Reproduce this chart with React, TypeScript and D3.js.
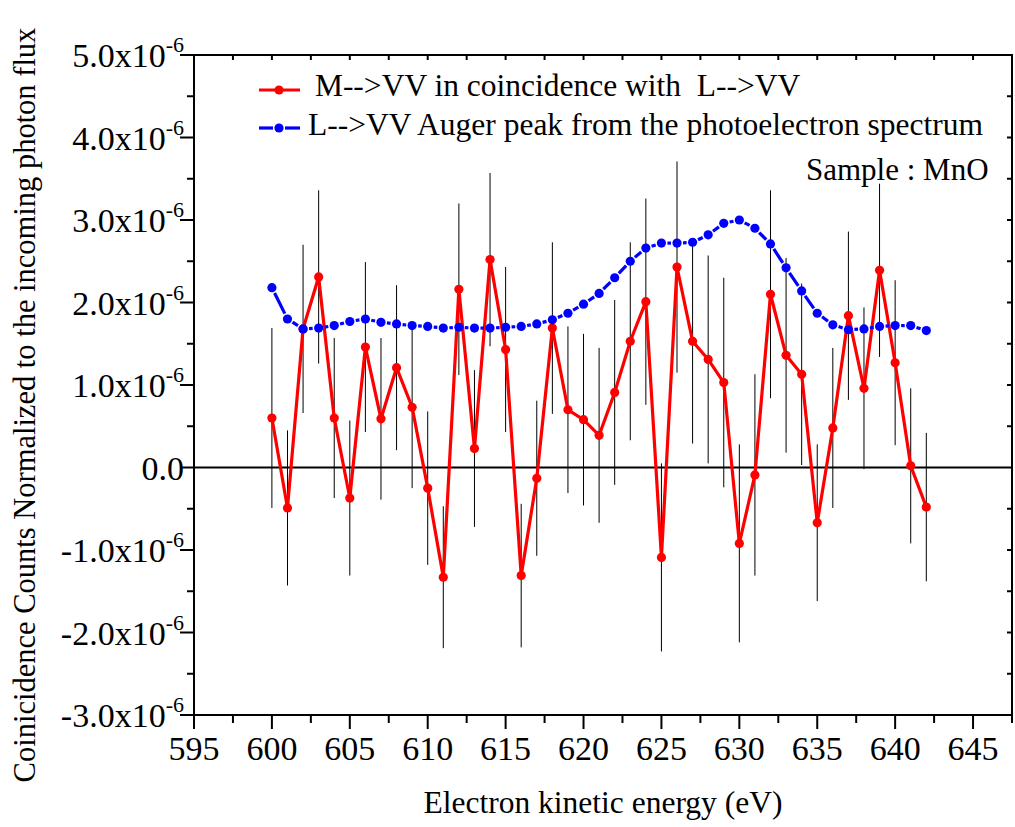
import React from "react";
import * as d3 from "d3";

const energies: number[] = d3.range(600, 643, 1);

// M-->VV in coincidence with L-->VV (units of 1e-6)
const coincValues: number[] = [
  0.60, -0.49, 1.68, 2.31, 0.60, -0.37, 1.46, 0.59, 1.21, 0.73,
  -0.25, -1.33, 2.16, 0.23, 2.52, 1.43, -1.31, -0.13, 1.69, 0.70,
  0.58, 0.39, 0.91, 1.53, 2.01, -1.09, 2.43, 1.53, 1.31, 1.03,
  -0.92, -0.09, 2.10, 1.36, 1.13, -0.67, 0.48, 1.84, 0.96, 2.39,
  1.27, 0.02, -0.48,
];

// half-length of error bars (units of 1e-6)
const coincErrors: number[] = [
  1.09, 0.94, 1.02, 1.05, 0.97, 0.94, 1.03, 0.98, 1.00, 0.98,
  0.93, 0.86, 1.04, 0.95, 1.05, 1.00, 0.87, 0.94, 1.04, 1.01,
  1.04, 1.06, 1.12, 1.20, 1.25, 1.14, 1.28, 1.24, 1.26, 1.27,
  1.20, 1.22, 1.26, 1.18, 1.10, 0.95, 0.97, 1.02, 0.98, 1.05,
  1.00, 0.94, 0.90,
];

// L-->VV Auger peak from photoelectron spectrum (units of 1e-6)
const augerValues: number[] = [
  2.18, 1.80, 1.68, 1.69, 1.72, 1.77, 1.80, 1.76, 1.74, 1.72,
  1.71, 1.69, 1.70, 1.69, 1.69, 1.70, 1.71, 1.74, 1.79, 1.87,
  1.98, 2.11, 2.30, 2.50, 2.66, 2.72, 2.72, 2.73, 2.82, 2.96,
  3.00, 2.90, 2.71, 2.42, 2.14, 1.87, 1.73, 1.67, 1.68, 1.71,
  1.72, 1.72, 1.66,
];

const xMajorTicks: number[] = [595, 600, 605, 610, 615, 620, 625, 630, 635, 640, 645];
const xMinorTicks: number[] = [597.5, 602.5, 607.5, 612.5, 617.5, 622.5, 627.5, 632.5, 637.5, 642.5, 647.5];
const yMajorTicks: number[] = [-3, -2, -1, 0, 1, 2, 3, 4, 5];
const yMinorTicks: number[] = [-2.5, -1.5, -0.5, 0.5, 1.5, 2.5, 3.5, 4.5];

const legendLabels: string[] = [
  " M-->VV in coincidence with  L-->VV",
  "L-->VV Auger peak from the photoelectron spectrum",
];
const sampleLabel = "Sample : MnO";
const xTitle = "Electron kinetic energy (eV)";
const yTitle = "Coinicidence Counts Normalized to the incoming photon flux";

const FONT = "'Liberation Serif', 'Times New Roman', serif";
const RED = "#ff0000";
const BLUE = "#0000ff";

export default function App() {
  const W = 1015;
  const H = 827;
  const left = 194, right = 1012, top = 55, bottom = 715;
  const x = d3.scaleLinear().domain([595, 647.5]).range([left, right]);
  const y = d3.scaleLinear().domain([-3, 5]).range([bottom, top]);

  const redPts = energies.map((e, i) => [x(e), y(coincValues[i])] as [number, number]);
  const bluePts = energies.map((e, i) => [x(e), y(augerValues[i])] as [number, number]);
  const line = d3.line<[number, number]>();

  const gap = 6;
  const blueSegs = bluePts.slice(0, -1).map((p, i) => {
    const q = bluePts[i + 1];
    const dx = q[0] - p[0], dy = q[1] - p[1];
    const len = Math.hypot(dx, dy);
    const ux = dx / len, uy = dy / len;
    return [p[0] + ux * gap, p[1] + uy * gap, q[0] - ux * gap, q[1] - uy * gap];
  });

  const fmtY = (v: number) => (v === 0 ? "0.0" : `${v.toFixed(1)}x10`);

  return (
    <svg width={W} height={H} style={{ position: "absolute", left: 0, top: 0, background: "#fff" }} fontFamily={FONT}>
      <rect x={0} y={0} width={W} height={H} fill="#fff" />
      {/* zero line */}
      <line x1={left} x2={right - 5} y1={y(0)} y2={y(0)} stroke="#000" strokeWidth={2} />

      {/* error bars */}
      {energies.map((e, i) => (
        <line key={"eb" + i} x1={x(e)} x2={x(e)}
          y1={y(coincValues[i] + coincErrors[i])} y2={y(coincValues[i] - coincErrors[i])}
          stroke="#000" strokeWidth={1} />
      ))}

      {/* red series */}
      <path d={line(redPts) || ""} fill="none" stroke={RED} strokeWidth={3.2} strokeLinejoin="miter" />
      {redPts.map((p, i) => (
        <circle key={"r" + i} cx={p[0]} cy={p[1]} r={4.6} fill={RED} />
      ))}

      {/* blue series */}
      {blueSegs.map((s, i) => (
        <line key={"bs" + i} x1={s[0]} y1={s[1]} x2={s[2]} y2={s[3]} stroke={BLUE} strokeWidth={3.2} />
      ))}
      {bluePts.map((p, i) => (
        <circle key={"b" + i} cx={p[0]} cy={p[1]} r={4.6} fill={BLUE} />
      ))}

      {/* frame */}
      <rect x={left} y={top} width={right - left} height={bottom - top} fill="none" stroke="#000" strokeWidth={2} />

      {/* bottom ticks */}
      {xMajorTicks.map((t) => (
        <g key={"xm" + t}>
          <line x1={x(t)} x2={x(t)} y1={bottom} y2={bottom + 14} stroke="#000" strokeWidth={2} />
          <line x1={x(t)} x2={x(t)} y1={top} y2={top + 5} stroke="#000" strokeWidth={2} />
          <text x={x(t)} y={bottom + 45} textAnchor="middle" fontSize={34}>{t}</text>
        </g>
      ))}
      {xMinorTicks.map((t) => (
        <g key={"xn" + t}>
          <line x1={x(t)} x2={x(t)} y1={bottom} y2={bottom + 8} stroke="#000" strokeWidth={2} />
          <line x1={x(t)} x2={x(t)} y1={top} y2={top + 5} stroke="#000" strokeWidth={2} />
        </g>
      ))}

      {/* left ticks */}
      {yMajorTicks.map((t) => (
        <g key={"ym" + t}>
          <line x1={left - 14} x2={left} y1={y(t)} y2={y(t)} stroke="#000" strokeWidth={2} />
          <line x1={right - 5} x2={right} y1={y(t)} y2={y(t)} stroke="#000" strokeWidth={2} />
          <text x={184} y={y(t) + 12} textAnchor="end" fontSize={34}>
            {fmtY(t)}
            {t !== 0 && <tspan dy={-15} fontSize={22}>-6</tspan>}
          </text>
        </g>
      ))}
      {yMinorTicks.map((t) => (
        <g key={"yn" + t}>
          <line x1={left - 7} x2={left} y1={y(t)} y2={y(t)} stroke="#000" strokeWidth={2} />
          <line x1={right - 5} x2={right} y1={y(t)} y2={y(t)} stroke="#000" strokeWidth={2} />
        </g>
      ))}

      {/* legend */}
      <line x1={259} x2={300} y1={90} y2={90} stroke={RED} strokeWidth={3.2} />
      <circle cx={279} cy={90} r={4.6} fill={RED} />
      <text x={307} y={96} fontSize={31.5} style={{ whiteSpace: "pre" }}>{legendLabels[0]}</text>
      <line x1={259} x2={273} y1={128} y2={128} stroke={BLUE} strokeWidth={3.2} />
      <line x1={285} x2={300} y1={128} y2={128} stroke={BLUE} strokeWidth={3.2} />
      <circle cx={279} cy={128} r={4.6} fill={BLUE} />
      <text x={308} y={135} fontSize={31.5}>{legendLabels[1]}</text>
      <text x={806} y={180} fontSize={31}>{sampleLabel}</text>

      {/* axis titles */}
      <text x={603} y={813} textAnchor="middle" fontSize={31.5}>{xTitle}</text>
      <text transform={`translate(35, 405) rotate(-90)`} textAnchor="middle" fontSize={30.5}>{yTitle}</text>
    </svg>
  );
}
